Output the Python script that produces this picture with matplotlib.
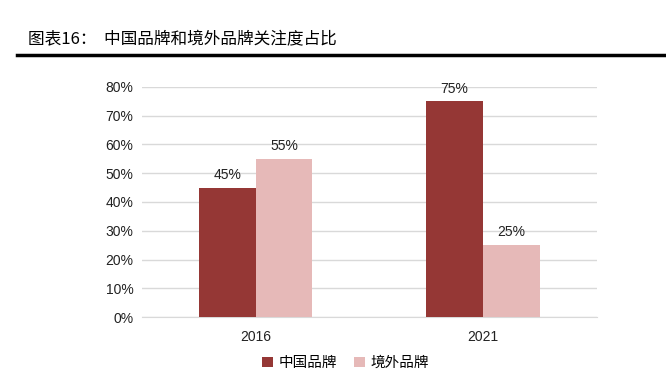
import numpy as np
import matplotlib
matplotlib.use('Agg')
import matplotlib.pyplot as plt
from matplotlib.lines import Line2D

plt.rcParams['font.family'] = ['Liberation Sans', 'Noto Sans CJK SC', 'DejaVu Sans']

years = ['2016', '2021']
domestic = [45, 75]
overseas = [55, 25]
series_names = ['中国品牌', '境外品牌']
colors = ['#953735', '#E6B9B8']

fig = plt.figure(figsize=(6.66, 3.73), dpi=100)
ax = fig.add_axes([0.213, 0.150, 0.683, 0.617])

x = np.arange(len(years))
w = 0.25
b1 = ax.bar(x - w / 2, domestic, w, color=colors[0], label=series_names[0], zorder=3)
b2 = ax.bar(x + w / 2, overseas, w, color=colors[1], label=series_names[1], zorder=3)

for bars in (b1, b2):
    for rect in bars:
        h = rect.get_height()
        ax.text(rect.get_x() + rect.get_width() / 2, h + 2, '%d%%' % h,
                ha='center', va='bottom', fontsize=10, color='#222222')

ax.set_xlim(-0.5, 1.5)
ax.set_ylim(0, 80)
ax.set_yticks(np.arange(0, 81, 10))
ax.set_yticklabels(['%d%%' % v for v in range(0, 81, 10)], fontsize=10, color='#222222')
ax.set_xticks(x)
ax.set_xticklabels(years, fontsize=10, color='#222222')
ax.tick_params(axis='y', length=0, pad=6)
ax.tick_params(axis='x', length=0, pad=9)
ax.grid(axis='y', color='#D9D9D9', linewidth=1, zorder=0)
for s in ['top', 'right', 'left']:
    ax.spines[s].set_visible(False)
ax.spines['bottom'].set_color('#D9D9D9')

ax.legend(loc='center', bbox_to_anchor=(0.448, -0.2), ncol=2, frameon=False,
          handlelength=0.7, handleheight=0.7, handletextpad=0.4,
          columnspacing=1.2, borderpad=0.2,
          prop={'family': ['Noto Sans CJK SC'], 'size': 10.5})

fig.text(0.042, 0.893, '图表16：  中国品牌和境外品牌关注度占比', fontsize=12,
         family=['Noto Sans CJK SC'], va='center', ha='left')
fig.add_artist(Line2D([0.026, 1.0], [0.852, 0.852], color='black', linewidth=2.5,
                      transform=fig.transFigure))

fig.savefig('out.png', dpi=100)
